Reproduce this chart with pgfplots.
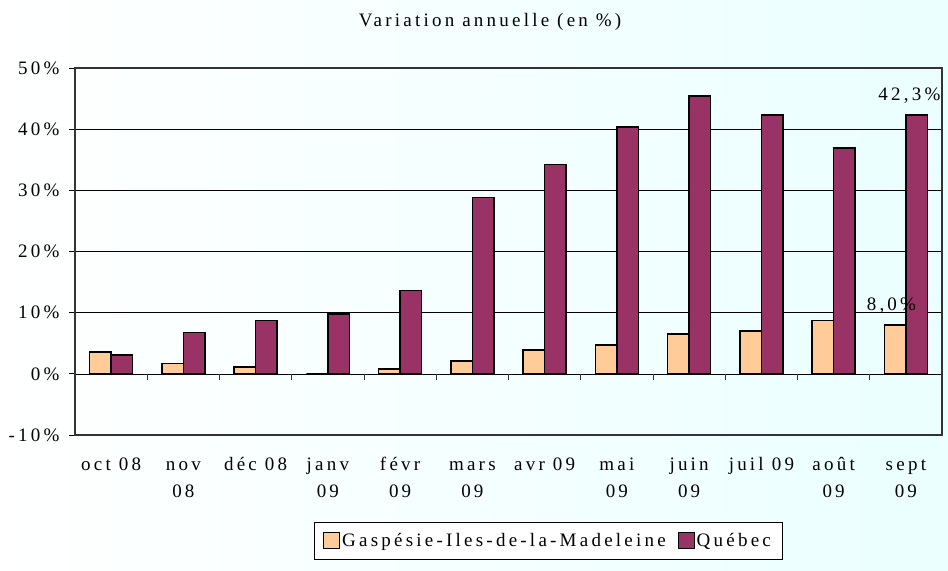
\documentclass[border=0pt]{standalone}
\usepackage{fontspec}
\setmainfont{Liberation Serif}[LetterSpace=17]
\usepackage{pgfplots}
\pgfplotsset{compat=1.18}
\definecolor{gasp}{HTML}{FFCC99}
\definecolor{queb}{HTML}{993366}
\begin{document}
\begin{tikzpicture}[font=\fontsize{19bp}{23bp}\selectfont]
\shade[left color=white, right color=cyan!8!white] (-75bp,-136bp) rectangle (873bp,435bp);
\path[use as bounding box] (-75bp,-136bp) rectangle (873bp,435bp);
\begin{axis}[
  at={(0,0)}, anchor=south west,
  scale only axis, width=867bp, height=367bp,
  ybar=0pt, bar width=21.5bp,
  xmin=-0.5, xmax=11.5, ymin=-10, ymax=50,
  xtick=data,
  xticklabels={{\strut oct 08}, {\strut nov\\\strut 08}, {\strut déc 08}, {\strut janv\\\strut 09}, {\strut févr\\\strut 09}, {\strut mars\\\strut 09}, {\strut avr 09}, {\strut mai\\\strut 09}, {\strut juin\\\strut 09}, {\strut juil 09}, {\strut août\\\strut 09}, {\strut sept\\\strut 09}},
  xticklabel style={align=center, font=\fontsize{19bp}{27bp}\selectfont, anchor=north, yshift=-10bp, inner sep=0pt},
  major x tick style={draw=none},
  ytick={-10,0,...,50},
  ytick pos=left,
  yticklabel={\pgfmathprintnumber{\tick}\%},
  /pgf/number format/assume math mode=true,
  yticklabel style={font=\fontsize{19bp}{23bp}\selectfont, xshift=-6bp},
  ymajorgrids, grid style={black, line width=0.6pt},
  axis line style={gray!70, line width=1pt},
  y axis line style={black!80, line width=1.2pt},
  major y tick style={black, line width=0.8pt},
  tick align=outside, major tick length=6bp,
  legend style={at={(axis description cs:0.5456,-0.2888)}, anchor=center, legend columns=2, draw=black, line width=0.7pt, font=\fontsize{19bp}{23bp}\selectfont, inner sep=9bp, nodes={inner sep=2bp}, /tikz/every even column/.append style={column sep=10bp}},
  legend image code/.code={\draw[#1, line width=1pt] (0bp,-7.5bp) rectangle (16bp,8.5bp);},
  clip=false,
]
\addplot[fill=gasp, draw=black, line width=1.6pt] coordinates {
 (0,3.6) (1,1.7) (2,1.1) (3,0) (4,0.8) (5,2.1) (6,3.9) (7,4.7) (8,6.5) (9,7.0) (10,8.7) (11,8.0)};
\addplot[fill=queb, draw=black, line width=1.6pt] coordinates {
 (0,3.1) (1,6.75) (2,8.7) (3,9.8) (4,13.6) (5,28.8) (6,34.2) (7,40.4) (8,45.4) (9,42.3) (10,36.9) (11,42.3)};
\legend{Gaspésie-Iles-de-la-Madeleine, Québec}
\pgfplotsinvokeforeach{0.5,1.5,2.5,3.5,4.5,5.5,6.5,7.5,8.5,9.5,10.5}{\draw[black!80, line width=0.8pt] (axis cs:#1,0) -- ([yshift=-6bp]axis cs:#1,0);}
\node[anchor=south] at (axis cs:11.05,42.3) [yshift=8bp] {42,3\%};
\node[anchor=south] at (axis cs:10.8,8.0) [yshift=8bp] {8,0\%};
\node at (rel axis cs:0.4787,1.1253) {Variation annuelle (en \%)};
\end{axis}
\end{tikzpicture}
\end{document}
